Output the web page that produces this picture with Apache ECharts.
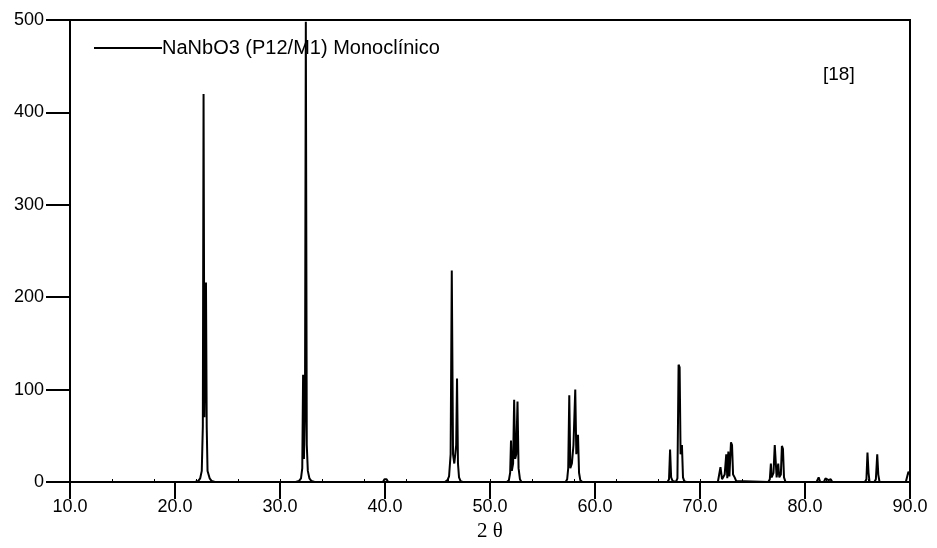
<!DOCTYPE html>
<html><head><meta charset="utf-8">
<script src="https://cdn.jsdelivr.net/npm/echarts@6/dist/echarts.min.js"></script>
<style>html,body{margin:0;padding:0;background:#fff}#c{width:937px;height:548px}</style>
</head><body><div id="c"></div>
<script>
// 2θ positions (degrees) and intensities
var twoTheta = [
 10.0, 21.9, 22.2, 22.4, 22.55, 22.65, 22.72, 22.8, 22.88, 22.95, 23.02, 23.1, 23.3, 23.5, 23.8,
 31.5, 31.8, 32.0, 32.12, 32.2, 32.28, 32.38, 32.46, 32.55, 32.65, 32.8, 33.0, 33.3,
 39.8, 39.95, 40.05, 40.15, 40.3,
 45.7, 45.95, 46.1, 46.25, 46.36, 46.48, 46.6, 46.78, 46.86, 46.95, 47.05, 47.2, 47.4,
 51.6, 51.8, 51.92, 52.0, 52.08, 52.2, 52.3, 52.4, 52.5, 52.62, 52.72, 52.85, 53.0,
 57.2, 57.35, 57.45, 57.55, 57.65, 57.8, 57.95, 58.12, 58.22, 58.38, 58.48, 58.6, 58.8,
 66.9, 67.05, 67.15, 67.25, 67.4, 67.7, 67.85, 67.96, 68.06, 68.15, 68.28, 68.38, 68.5, 68.7,
 71.7, 71.85, 71.95, 72.1, 72.35, 72.5, 72.6, 72.7, 72.8, 72.95, 73.05, 73.15, 73.3, 73.45, 73.6,
 76.5, 76.65, 76.75, 76.82, 76.9, 77.0, 77.12, 77.2, 77.3, 77.45, 77.55, 77.7, 77.8, 77.9, 78.0, 78.15,
 81.1, 81.3, 81.45, 81.8, 81.95, 82.1, 82.25, 82.45, 82.6,
 85.7, 85.85, 85.95, 86.05, 86.15, 86.6, 86.75, 86.88, 86.98, 87.1,
 89.6, 89.75, 89.85, 89.95, 90.0
];
var intensity = [
 0, 0, 1, 4, 12, 60, 420, 70, 150, 216, 60, 12, 4, 1, 0,
 0, 1, 4, 15, 116, 25, 80, 498, 40, 12, 4, 1, 0,
 0, 3, 2, 3, 0,
 0, 2, 6, 30, 229, 30, 20, 40, 112, 20, 5, 1, 0,
 0, 2, 10, 45, 12, 20, 89, 25, 30, 87, 15, 3, 0,
 0, 3, 15, 94, 15, 20, 40, 100, 30, 51, 10, 2, 0,
 0, 3, 35, 5, 1, 0, 4, 127, 124, 30, 40, 5, 1, 0,
 0, 2, 16, 3, 8, 30, 4, 33, 6, 43, 40, 8, 5, 1, 0,
 0, 3, 20, 5, 3, 10, 40, 38, 5, 20, 5, 8, 39, 36, 5, 0,
 0, 5, 0, 0, 4, 5, 2, 3, 0,
 0, 3, 32, 10, 0, 0, 3, 30, 8, 0,
 0, 2, 11, 10, 8
];
var xTicks = [10, 20, 30, 40, 50, 60, 70, 80, 90];
var yTicks = [0, 100, 200, 300, 400, 500];
var seriesName = 'NaNbO3 (P12/M1) Monoclínico';
var refLabel = '[18]';
var xTitle = '2 θ';

var data = twoTheta.map(function (t, i) { return [t, intensity[i]]; });
var chart = echarts.init(document.getElementById('c'), null, {renderer: 'canvas'});
chart.setOption({
  animation: false,
  backgroundColor: '#fff',
  grid: {left: 70, right: 27, top: 20, bottom: 66, show: true, borderColor: '#000', borderWidth: 2, backgroundColor: 'transparent'},
  title: {text: refLabel, left: 818, top: 60, textStyle: {fontFamily: 'Liberation Sans', fontWeight: 'normal', fontSize: 19, color: '#000'}},
  legend: {
    left: 89, top: 33, itemWidth: 68, itemHeight: 2, itemGap: 0,
    data: [{name: seriesName, icon: 'rect'}],
    textStyle: {fontFamily: 'Liberation Sans', fontSize: 20, color: '#000', padding: [0, 0, 0, -5]}
  },
  xAxis: [{
    type: 'value', min: xTicks[0], max: xTicks[xTicks.length - 1], interval: xTicks[1] - xTicks[0],
    name: xTitle, nameLocation: 'middle', nameGap: 33,
    nameTextStyle: {fontFamily: 'Liberation Serif', fontSize: 21, color: '#000'},
    axisLine: {onZero: false, lineStyle: {color: '#000', width: 2}},
    axisTick: {show: true, inside: false, length: 17, lineStyle: {color: '#000', width: 2}},
    axisLabel: {color: '#000', fontFamily: 'Liberation Sans', fontSize: 18, margin: 16,
      formatter: function (v) { return v.toFixed(1); }},
    splitLine: {show: false}
  }, {
    type: 'value', position: 'bottom', min: 10, max: 90, interval: 4,
    axisLine: {show: false}, axisLabel: {show: false}, splitLine: {show: false},
    axisTick: {show: true, inside: true, length: 3, lineStyle: {color: '#000', width: 1}}
  }],
  yAxis: {
    type: 'value', min: yTicks[0], max: yTicks[yTicks.length - 1], interval: yTicks[1] - yTicks[0],
    axisLine: {show: true, lineStyle: {color: '#000', width: 2}},
    axisTick: {show: true, length: 24, lineStyle: {color: '#000', width: 2}},
    axisLabel: {color: '#000', fontFamily: 'Liberation Sans', fontSize: 18, margin: 26},
    splitLine: {show: false}
  },
  series: [{
    name: seriesName, type: 'line', data: data, symbol: 'none', showSymbol: false,
    sampling: 'none', clip: true,
    lineStyle: {color: '#000', width: 2}, itemStyle: {color: '#000'}
  }]
});
</script></body></html>
